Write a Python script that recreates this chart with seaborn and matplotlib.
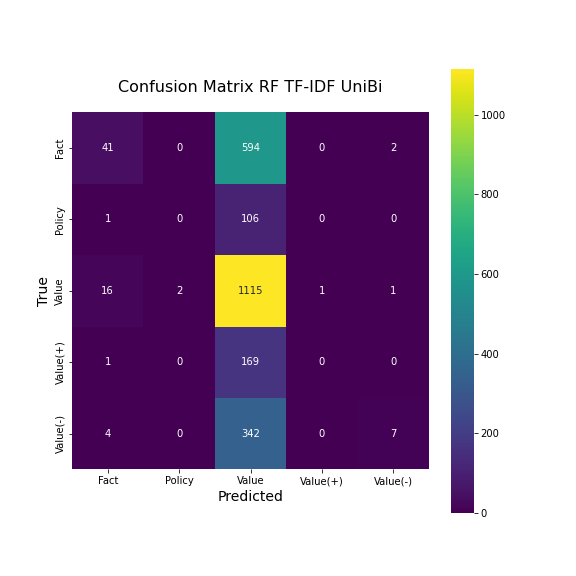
import numpy as np
import matplotlib
matplotlib.use("Agg")
import matplotlib.pyplot as plt
import seaborn as sns

labels = ["Fact", "Policy", "Value", "Value(+)", "Value(-)"]
row_fact = [41, 0, 594, 0, 2]
row_policy = [1, 0, 106, 0, 0]
row_value = [16, 2, 1115, 1, 1]
row_value_pos = [1, 0, 169, 0, 0]
row_value_neg = [4, 0, 342, 0, 7]

cm = np.array([row_fact, row_policy, row_value, row_value_pos, row_value_neg])

fig, ax = plt.subplots(figsize=(8, 8), dpi=72)
sns.heatmap(cm, annot=True, fmt="d", cmap="viridis", square=True, ax=ax,
            xticklabels=labels, yticklabels=labels)
ax.set_title("Confusion Matrix RF TF-IDF UniBi", fontsize=16, pad=20)
ax.set_xlabel("Predicted", fontsize=14)
ax.set_ylabel("True", fontsize=14)
fig.savefig("out.png", dpi=72)
